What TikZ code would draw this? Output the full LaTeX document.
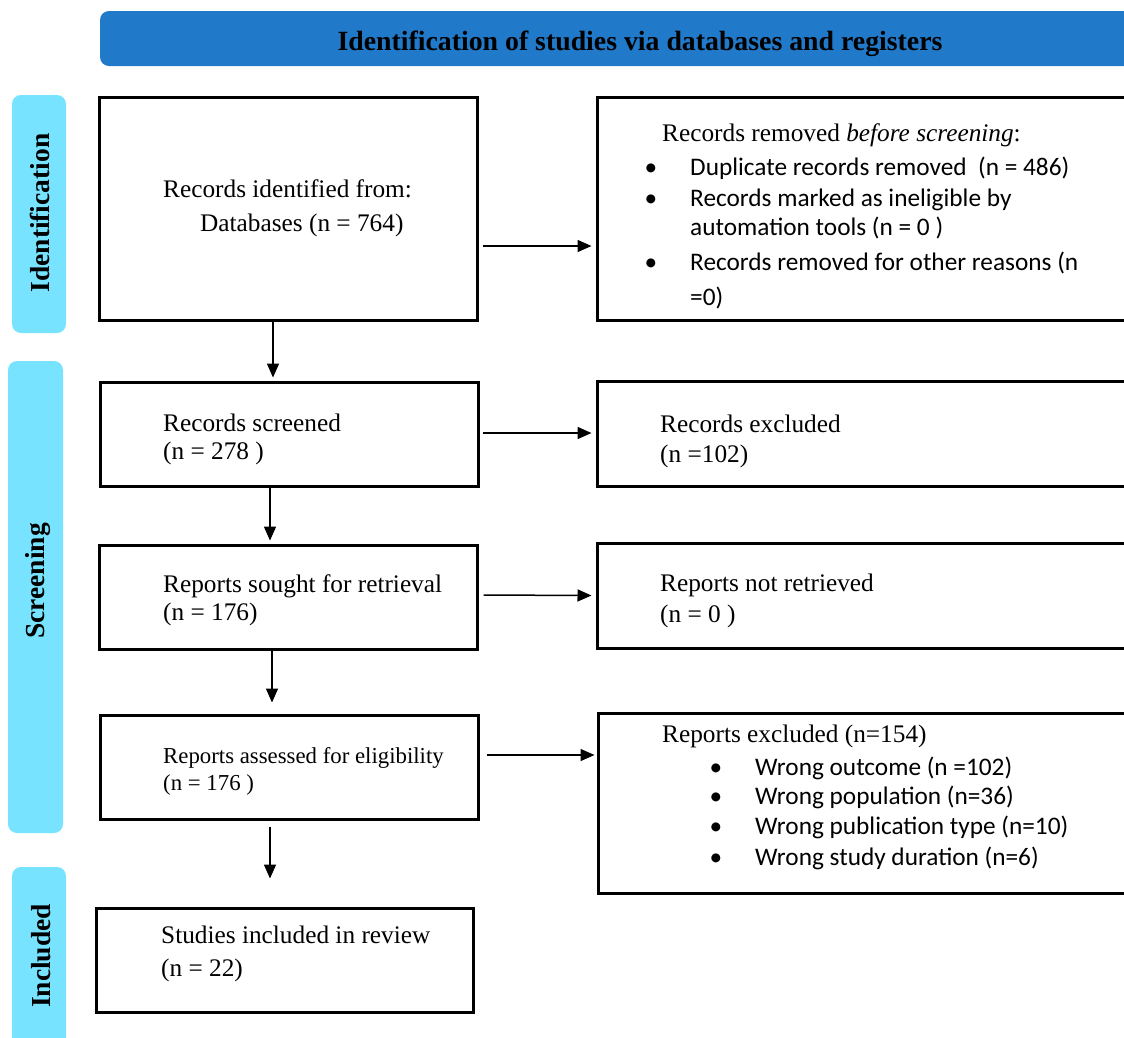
\documentclass[tikz,border=0pt]{standalone}
\usepackage{fontspec}
\setmainfont{Liberation Serif}
\newfontfamily\calfont{Carlito}
\usetikzlibrary{arrows.meta}
\definecolor{banner}{HTML}{2179C9}
\definecolor{phase}{HTML}{78E3FE}
\tikzset{
 box/.style={draw=black, line width=3pt, rectangle, inner sep=0pt},
 phasebar/.style={fill=phase, rounded corners=9pt, inner sep=0pt, rotate=90},
 lbl/.style={anchor=base west, inner sep=0pt, font=\fontsize{25.3}{30}\selectfont},
 lblsm/.style={anchor=base west, inner sep=0pt, font=\fontsize{22.8}{27}\selectfont},
 cal/.style={anchor=base west, inner sep=0pt, font=\calfont\fontsize{25.3}{30}\selectfont},
 bul/.style={anchor=base, inner sep=0pt, font=\calfont\fontsize{25.3}{30}\selectfont},
 arr/.style={line width=1.5pt, -{Triangle[length=14pt,width=12pt]}},
 phaselbl/.style={rotate=90, font=\bfseries\fontsize{27.5}{30}\selectfont, inner sep=0pt},
}
\begin{document}
\begin{tikzpicture}[x=1pt,y=-1pt]
\useasboundingbox (0,0) rectangle (1124,1037);
\clip (0,0) rectangle (1124,1037);

% banner
\node[fill=banner, rounded corners=9pt, minimum width=1060pt, minimum height=55pt, inner sep=0pt] (banner) at (630,38.5) {};
\node[font=\bfseries\fontsize{27.8}{30}\selectfont, anchor=base, inner sep=0pt] (title) at (640,50) {Identification of studies via databases and registers};

% phase bars
\node[phasebar, minimum width=238pt, minimum height=54pt] (pid) at (39,214) {};
\node[phasebar, minimum width=472pt, minimum height=55pt] (psc) at (35.5,597) {};
\node[phasebar, minimum width=200pt, minimum height=54pt] (pin) at (39,967) {};
\node[phaselbl] (lid) at (40,213) {Identification};
\node[phaselbl] (lsc) at (38,581) {Screening};
\node[phaselbl] (lin) at (41,956) {Included};

% boxes
\node[box, minimum width=378pt, minimum height=223pt] (b1) at (288,208.5) {};
\node[box, minimum width=560pt, minimum height=223pt] (r1) at (877,208.5) {};
\node[box, minimum width=378pt, minimum height=104pt] (b2) at (289,434) {};
\node[box, minimum width=560pt, minimum height=105pt] (r2) at (877,433.5) {};
\node[box, minimum width=378pt, minimum height=104pt] (b3) at (288,597) {};
\node[box, minimum width=560pt, minimum height=105pt] (r3) at (877,595.5) {};
\node[box, minimum width=378pt, minimum height=104pt] (b4) at (289,767) {};
\node[box, minimum width=560pt, minimum height=180pt] (r4) at (878,803) {};
\node[box, minimum width=377pt, minimum height=104pt] (b5) at (284.5,960) {};

% texts
\node[lbl] (t1a) at (163,197) {Records identified from:};
\node[lbl] (t1b) at (200,231) {Databases (n = 764)};

\node[lbl] (r1h) at (662,141) {Records removed \textit{before screening}:};
\node[bul] (r1p1) at (651,175) {•};
\node[bul] (r1p2) at (651,206) {•};
\node[bul] (r1p3) at (651,270) {•};
\node[cal] (r1a) at (690,175) {Duplicate records removed\ \ (n = 486)};
\node[cal] (r1b) at (690,206) {Records marked as ineligible by};
\node[cal] (r1c) at (690,235) {automation tools (n = 0 )};
\node[cal] (r1e) at (690,270) {Records removed for other reasons (n};
\node[cal] (r1f) at (690,305) {=0)};

\node[lbl] (t2a) at (163,431) {Records screened};
\node[lbl] (t2b) at (163,459) {(n = 278 )};
\node[lbl] (r2a) at (660,432) {Records excluded};
\node[lbl] (r2b) at (660,462) {(n =102)};

\node[lbl] (t3a) at (163,592) {Reports sought for retrieval};
\node[lbl] (t3b) at (163,620) {(n = 176)};
\node[lbl] (r3a) at (660,591) {Reports not retrieved};
\node[lbl] (r3b) at (660,622) {(n = 0 )};

\node[lblsm] (t4a) at (163,763) {Reports assessed for eligibility};
\node[lblsm] (t4b) at (163,790) {(n = 176 )};
\node[lbl] (r4h) at (662,742) {Reports excluded (n=154)};
\node[bul] (r4p1) at (716,775) {•};
\node[bul] (r4p2) at (716,804) {•};
\node[bul] (r4p3) at (716,834) {•};
\node[bul] (r4p4) at (716,865) {•};
\node[cal] (r4a) at (755,775) {Wrong outcome (n =102)};
\node[cal] (r4b) at (755,804) {Wrong population (n=36)};
\node[cal] (r4c) at (755,834) {Wrong publication type (n=10)};
\node[cal] (r4d) at (755,865) {Wrong study duration (n=6)};

\node[lbl] (t5a) at (161,943) {Studies included in review};
\node[lbl] (t5b) at (161,976) {(n = 22)};

% connectors
\draw[arr] ([shift={(4,37.5)}]b1.east) -- ([shift={(-4,37.5)}]r1.west);
\draw[arr] ([xshift=-15pt]b1.south) -- ([shift={(-16,-3)}]b2.north);
\draw[arr] ([shift={(3,-1)}]b2.east) -- ([shift={(-4,-0.5)}]r2.west);
\draw[arr] ([xshift=-19pt]b2.south) -- ([shift={(-18,-3)}]b3.north);
\draw[arr] ([shift={(5,-2)}]b3.east) -- ([shift={(-4,0)}]r3.west);
\draw[arr] ([xshift=-16pt]b3.south) -- ([shift={(-17,-11)}]b4.north);
\draw[arr] ([shift={(7,-12)}]b4.east) -- ([shift={(-2,-48)}]r4.west);
\draw[arr] ([shift={(-19,6)}]b4.south) -- ([shift={(-14.5,-28)}]b5.north);
\end{tikzpicture}
\end{document}
